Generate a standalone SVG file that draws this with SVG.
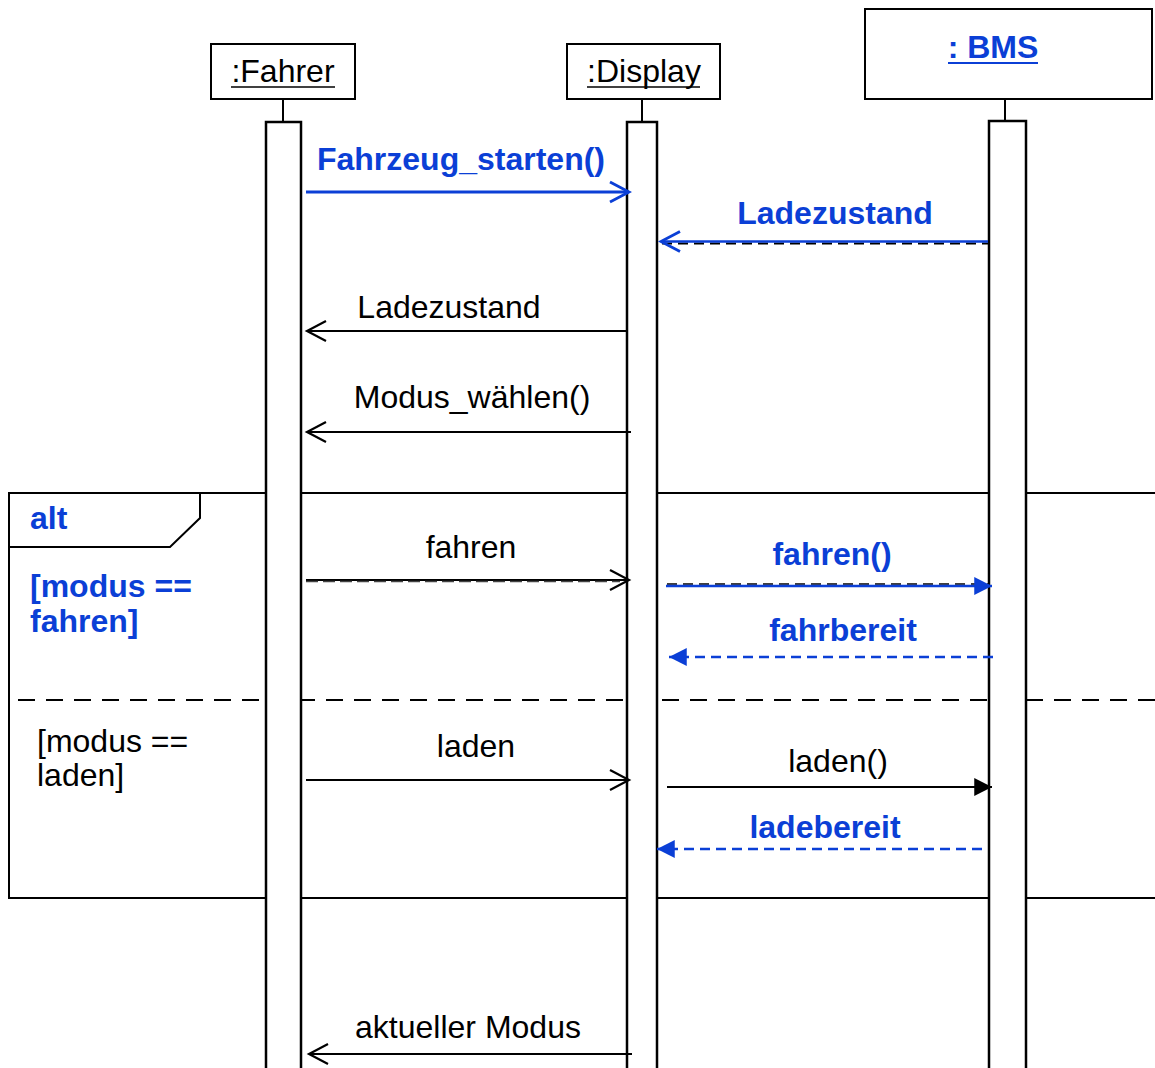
<svg xmlns="http://www.w3.org/2000/svg" width="1155" height="1068" viewBox="0 0 1155 1068">
  <style>
    text { font-family: "Liberation Sans", Arial, sans-serif; font-size: 32px; fill: #000; }
    .b { font-weight: bold; fill: #0b3fd6; }
    .mid { text-anchor: middle; }
    .ln { stroke: #000; stroke-width: 2; fill: none; }
    .box { fill: #fff; stroke: #000; stroke-width: 2; }
    .bar { fill: #fff; stroke: #000; stroke-width: 2.5; }
    .blue { stroke: #0b3fd6; }
    .dash { stroke-dasharray: 10 6; }
  </style>
  <defs>
    <marker id="openBlack" markerUnits="userSpaceOnUse" markerWidth="24" markerHeight="24" viewBox="-21 -12 24 24" refX="0" refY="0" orient="auto">
      <path d="M-19,-10 L0,0 L-19,10" fill="none" stroke="#000" stroke-width="2.2"/>
    </marker>
    <marker id="openBlue" markerUnits="userSpaceOnUse" markerWidth="24" markerHeight="24" viewBox="-21 -12 24 24" refX="0" refY="0" orient="auto">
      <path d="M-19,-10 L0,0 L-19,10" fill="none" stroke="#0b3fd6" stroke-width="2.8"/>
    </marker>
    <marker id="fillBlue" markerUnits="userSpaceOnUse" markerWidth="20" markerHeight="20" viewBox="-17 -9 18 18" refX="0" refY="0" orient="auto">
      <path d="M-16,-8 L0,0 L-16,8 Z" fill="#0b3fd6"/>
    </marker>
    <marker id="fillBlack" markerUnits="userSpaceOnUse" markerWidth="20" markerHeight="20" viewBox="-17 -9 18 18" refX="0" refY="0" orient="auto">
      <path d="M-16,-8 L0,0 L-16,8 Z" fill="#000"/>
    </marker>
  </defs>
  <rect width="1155" height="1068" fill="#fff"/>

  <!-- combined fragment "alt" -->
  <g id="alt-fragment">
    <rect x="9" y="493" width="1160" height="405" class="ln"/>
    <path d="M9,493 H200 V518 L170,547 H9" class="ln"/>
    <line x1="18" y1="700" x2="1155" y2="700" class="ln" style="stroke-dasharray:17 11"/>
    <text x="30" y="529" class="b">alt</text>
    <text x="30" y="597" class="b">[modus ==</text>
    <text x="30" y="632" class="b">fahren]</text>
    <text x="37" y="752">[modus ==</text>
    <text x="37" y="786">laden]</text>
  </g>

  <!-- lifeline :Fahrer -->
  <g id="fahrer">
    <rect x="211" y="44" width="144" height="55" class="box"/>
    <text x="283" y="82" class="mid">:Fahrer</text>
    <line x1="231" y1="87" x2="335" y2="87" class="ln" style="stroke-width:1.6"/>
    <line x1="283" y1="99" x2="283" y2="122" class="ln"/>
    <rect x="266" y="122" width="35" height="960" class="bar"/>
  </g>

  <!-- lifeline :Display -->
  <g id="display">
    <rect x="567" y="44" width="153" height="55" class="box"/>
    <text x="644" y="82" class="mid">:Display</text>
    <line x1="587" y1="87" x2="700" y2="87" class="ln" style="stroke-width:1.6"/>
    <line x1="642" y1="99" x2="642" y2="122" class="ln"/>
    <rect x="627" y="122" width="30" height="960" class="bar"/>
  </g>

  <!-- lifeline : BMS -->
  <g id="bms">
    <rect x="865" y="9" width="287" height="90" class="box"/>
    <text x="993" y="58" class="b mid">: BMS</text>
    <line x1="948" y1="63" x2="1038" y2="63" stroke="#0b3fd6" stroke-width="2"/>
    <line x1="1005" y1="99" x2="1005" y2="121" class="ln"/>
    <rect x="989" y="121" width="37" height="960" class="bar"/>
  </g>

  <!-- messages -->
  <g id="connectors">
    <line x1="306" y1="192" x2="629" y2="192" class="ln blue" style="stroke-width:3" marker-end="url(#openBlue)"/>
    <text x="461" y="170" class="b mid">Fahrzeug_starten()</text>

    <line x1="662" y1="243.5" x2="988" y2="243.5" class="ln dash"/>
    <line x1="988" y1="241.5" x2="661" y2="241.5" class="ln blue" style="stroke-width:2.6" marker-end="url(#openBlue)"/>
    <text x="835" y="224" class="b mid">Ladezustand</text>

    <line x1="627" y1="331" x2="307" y2="331" class="ln" marker-end="url(#openBlack)"/>
    <text x="449" y="318" class="mid">Ladezustand</text>

    <line x1="631" y1="432" x2="307" y2="432" class="ln" marker-end="url(#openBlack)"/>
    <text x="472" y="408" class="mid">Modus_wählen()</text>

    <line x1="306" y1="580" x2="629" y2="580" class="ln" marker-end="url(#openBlack)"/>
    <line x1="306" y1="581.5" x2="620" y2="581.5" class="ln" style="stroke:#444;stroke-width:1.4;stroke-dasharray:12 5"/>
    <text x="471" y="558" class="mid">fahren</text>

    <line x1="667" y1="584" x2="990" y2="584" class="ln dash" style="stroke-width:1.4"/>
    <line x1="666" y1="586" x2="992" y2="586" class="ln blue" style="stroke-width:2.6" marker-end="url(#fillBlue)"/>
    <text x="832" y="565" class="b mid">fahren()</text>

    <line x1="993" y1="657" x2="669" y2="657" class="ln blue dash" style="stroke-width:2.6" marker-end="url(#fillBlue)"/>
    <text x="843" y="641" class="b mid">fahrbereit</text>

    <line x1="306" y1="780" x2="629" y2="780" class="ln" marker-end="url(#openBlack)"/>
    <text x="476" y="757" class="mid">laden</text>

    <line x1="667" y1="787" x2="992" y2="787" class="ln" marker-end="url(#fillBlack)"/>
    <text x="838" y="772" class="mid">laden()</text>

    <line x1="982" y1="849" x2="657" y2="849" class="ln blue dash" style="stroke-width:2.6" marker-end="url(#fillBlue)"/>
    <text x="825" y="838" class="b mid">ladebereit</text>

    <line x1="632" y1="1054" x2="309" y2="1054" class="ln" marker-end="url(#openBlack)"/>
    <text x="468" y="1038" class="mid">aktueller Modus</text>
  </g>
</svg>
